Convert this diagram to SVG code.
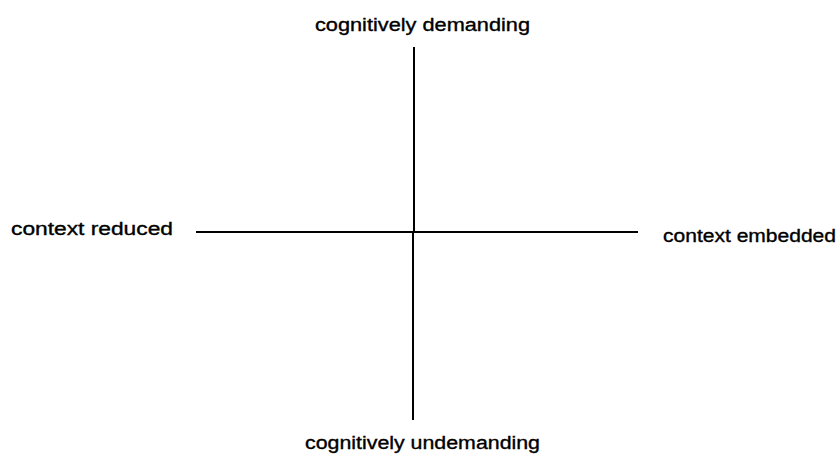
<svg xmlns="http://www.w3.org/2000/svg" width="840" height="456" viewBox="0 0 840 456">
<style>
.lbl{font-family:"Liberation Sans",Arial,sans-serif;font-size:18px;fill:#000;stroke:#000;stroke-width:0.35px;}
.ax{stroke:#000;stroke-width:2;fill:none;}
</style>
<rect width="840" height="456" fill="#fff"/>
<g id="connectors">
<line class="ax" x1="414" y1="47" x2="414" y2="232"/>
<line class="ax" x1="413" y1="232" x2="413" y2="420"/>
<line class="ax" x1="196" y1="232" x2="638" y2="232"/>
</g>
<g id="top"><text class="lbl" x="315" y="31" textLength="215" lengthAdjust="spacingAndGlyphs">cognitively demanding</text></g>
<g id="bottom"><text class="lbl" x="305" y="449" textLength="235" lengthAdjust="spacingAndGlyphs">cognitively undemanding</text></g>
<g id="left"><text class="lbl" x="11" y="235" textLength="162" lengthAdjust="spacingAndGlyphs">context reduced</text></g>
<g id="right"><text class="lbl" x="663" y="242" textLength="173" lengthAdjust="spacingAndGlyphs">context embedded</text></g>
</svg>
